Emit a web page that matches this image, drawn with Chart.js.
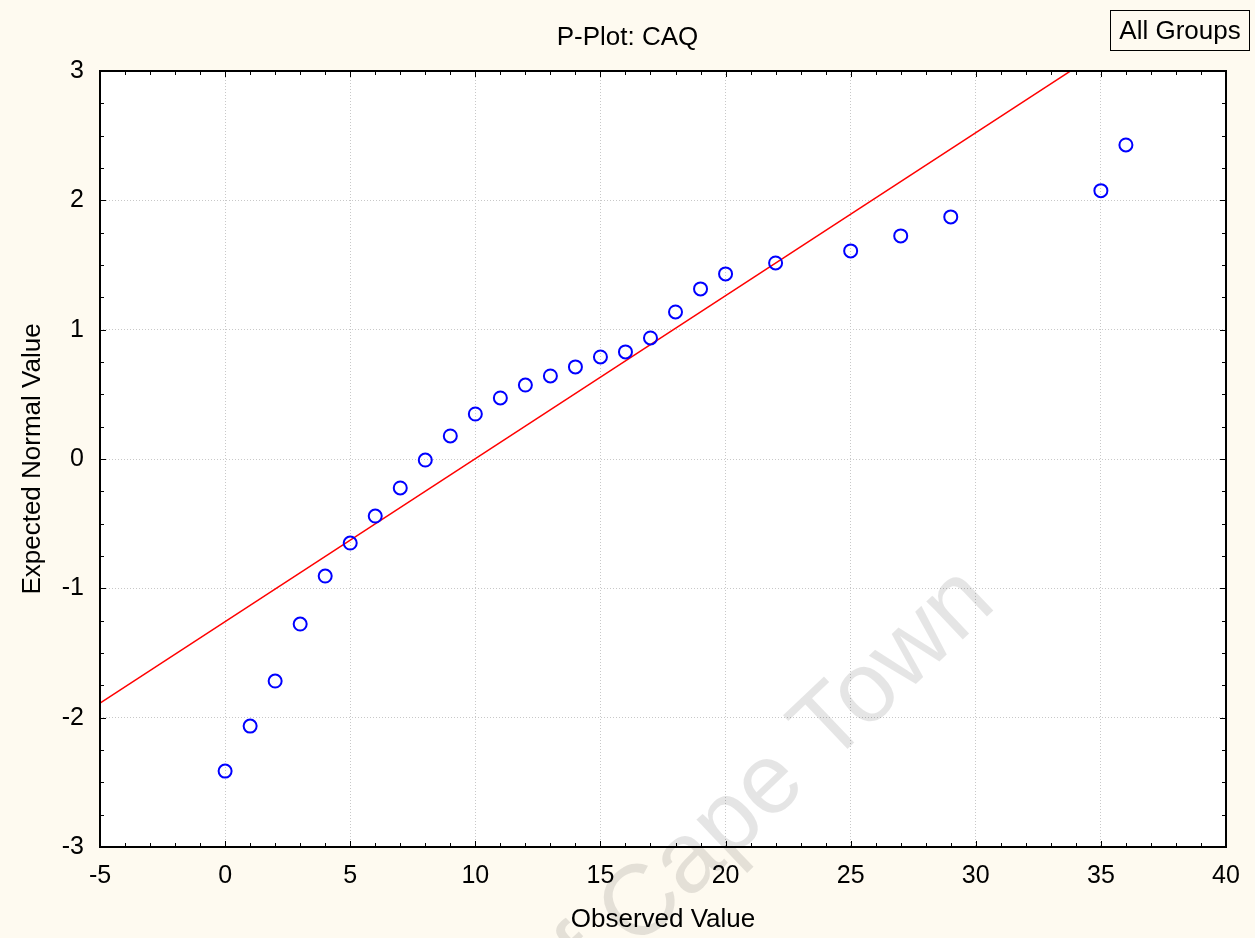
<!DOCTYPE html>
<html>
<head>
<meta charset="utf-8">
<title>P-Plot: CAQ</title>
<script src="https://cdn.jsdelivr.net/npm/chart.js@4"></script>
<style>
  html, body { margin: 0; padding: 0; background: #fefaf0; }
  canvas { display: block; }
</style>
</head>
<body>
<canvas id="pplot" width="1255" height="938"></canvas>
<script>
// observed CAQ values and their expected normal scores
const observed = [0, 1, 2, 3, 4, 5, 6, 7, 8, 9, 10, 11, 12, 13, 14, 15, 16, 17, 18, 19, 20, 22, 25, 27, 29, 35, 36];
const expected = [-2.413, -2.065, -1.717, -1.276, -0.905, -0.650, -0.441, -0.224, -0.008, 0.178, 0.348, 0.472, 0.572,
  0.642, 0.712, 0.789, 0.828, 0.936, 1.137, 1.315, 1.431, 1.516, 1.609, 1.725, 1.872, 2.075, 2.428];

// reference line (ends get clipped at the plot edge)
const fitX = [-5, 40];
const fitY = [-1.887, 3.783];

const xTicks = [-5, 0, 5, 10, 15, 20, 25, 30, 35, 40];
const yTicks = [-3, -2, -1, 0, 1, 2, 3];

const FONT = '"Liberation Sans", Arial, sans-serif';
const CREAM = '#fefaf0';

const framePlugin = {
  id: 'frame',
  beforeDraw(chart) {
    const { ctx, chartArea: a } = chart;
    ctx.save();
    ctx.fillStyle = CREAM;
    ctx.fillRect(0, 0, chart.width, chart.height);
    ctx.fillStyle = '#ffffff';
    ctx.fillRect(a.left, a.top, a.right - a.left, a.bottom - a.top);
    ctx.restore();
  },
  beforeDatasetsDraw(chart) {
    // watermark
    const ctx = chart.ctx;
    ctx.save();
    ctx.translate(998, 606);
    ctx.rotate(-0.76);
    ctx.font = '100px ' + FONT;
    ctx.fillStyle = 'rgba(0,0,0,0.1)';
    ctx.textAlign = 'right';
    ctx.textBaseline = 'alphabetic';
    ctx.fillText('University of Cape Town', 0, 0);
    ctx.restore();
  },
  afterDraw(chart) {
    const { ctx, chartArea: a } = chart;
    const xs = chart.scales.x, ys = chart.scales.y;
    ctx.save();
    ctx.strokeStyle = '#000';
    ctx.lineWidth = 1;
    ctx.beginPath();
    for (let v = -5; v <= 40; v++) {
      const px = Math.round(xs.getPixelForValue(v)) + 0.5;
      const len = v % 5 === 0 ? 6 : 4;
      ctx.moveTo(px, a.bottom); ctx.lineTo(px, a.bottom - len);
      ctx.moveTo(px, a.top); ctx.lineTo(px, a.top + len);
    }
    for (let v = -3; v <= 3; v += 0.25) {
      const py = Math.round(ys.getPixelForValue(v)) + 0.5;
      const len = Number.isInteger(v) ? 6 : 4;
      ctx.moveTo(a.left, py); ctx.lineTo(a.left + len, py);
      ctx.moveTo(a.right, py); ctx.lineTo(a.right - len, py);
    }
    ctx.stroke();
    ctx.lineWidth = 2;
    ctx.strokeRect(a.left, a.top, a.right - a.left, a.bottom - a.top);

    // title
    ctx.fillStyle = '#000';
    ctx.font = '26px ' + FONT;
    ctx.textAlign = 'center';
    ctx.textBaseline = 'middle';
    ctx.fillText('P-Plot: CAQ', chart.width / 2, 38);

    // group box
    ctx.lineWidth = 1;
    ctx.strokeRect(1110.5, 10.5, 139, 40);
    ctx.fillText('All Groups', 1180, 32);
    ctx.restore();
  }
};

const ctx = document.getElementById('pplot').getContext('2d');
const chart = new Chart(ctx, {
  type: 'scatter',
  data: {
    datasets: [{
      label: 'CAQ',
      data: observed.map((x, i) => ({ x: x, y: expected[i] })),
      pointStyle: 'circle',
      pointRadius: 6.5,
      pointBorderWidth: 2,
      pointBorderColor: '#0000ff',
      pointBackgroundColor: 'rgba(0,0,0,0)',
      pointHoverRadius: 6.5
    }, {
      type: 'line',
      label: 'fit',
      data: fitX.map((x, i) => ({ x: x, y: fitY[i] })),
      borderColor: '#ff0000',
      borderWidth: 1.5,
      pointRadius: 0,
      fill: false
    }]
  },
  options: {
    responsive: false,
    animation: false,
    devicePixelRatio: 1,
    layout: { padding: { top: 71, right: 29, left: 0, bottom: 0 } },
    plugins: {
      legend: { display: false },
      tooltip: { enabled: false }
    },
    scales: {
      x: {
        type: 'linear',
        min: -5,
        max: 40,
        afterBuildTicks: s => { s.ticks = xTicks.map(v => ({ value: v })); },
        afterFit: s => { s.height = 91; },
        ticks: { color: '#000', font: { family: FONT, size: 25 }, padding: 14, maxRotation: 0 },
        grid: { color: '#c8c8c8', lineWidth: 1, drawTicks: false },
        border: { display: false, dash: [1, 2] },
        title: { display: true, text: 'Observed Value', color: '#000', font: { family: FONT, size: 26 }, padding: { top: 0, bottom: 3 } }
      },
      y: {
        type: 'linear',
        min: -3,
        max: 3,
        afterBuildTicks: s => { s.ticks = yTicks.map(v => ({ value: v })); },
        afterFit: s => { s.width = 100; },
        ticks: { color: '#000', font: { family: FONT, size: 25 }, padding: 16 },
        grid: { color: '#c8c8c8', lineWidth: 1, drawTicks: false },
        border: { display: false, dash: [1, 2] },
        title: { display: true, text: 'Expected Normal Value', color: '#000', font: { family: FONT, size: 26 }, padding: { top: 17, bottom: 0 } }
      }
    }
  },
  plugins: [framePlugin]
});
</script>
</body>
</html>
